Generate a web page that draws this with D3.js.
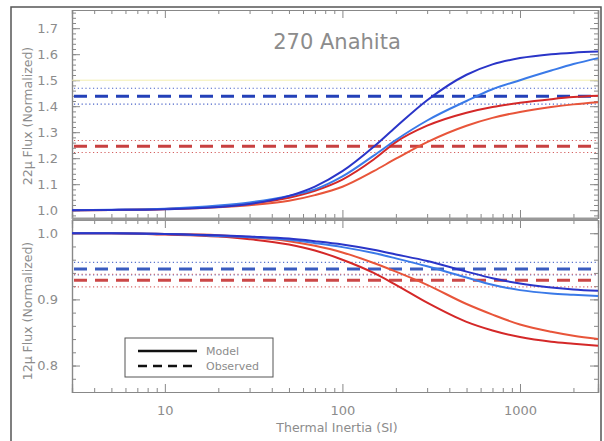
<!DOCTYPE html>
<html>
<head>
<meta charset="utf-8">
<script src="https://cdn.jsdelivr.net/npm/d3@7"></script>
<style>
  body { margin: 0; background: #fff; }
  text { font-family: "DejaVu Sans", sans-serif; fill: #8c8c8c; }
</style>
</head>
<body>
<div id="chart"></div>
<script>
// thermal inertia sample points (SI)
const inertia = [3, 5, 10, 20, 30, 50, 70, 100, 150, 200, 300, 500, 700, 1000, 1500, 2000, 2750];

// 22 micron model curves
const flux22BlueA = [1.000, 1.001, 1.004, 1.012, 1.024, 1.055, 1.091, 1.150, 1.244, 1.320, 1.423, 1.521, 1.561, 1.585, 1.600, 1.606, 1.610];
const flux22BlueB = [1.000, 1.002, 1.006, 1.018, 1.030, 1.055, 1.080, 1.130, 1.210, 1.270, 1.345, 1.420, 1.465, 1.500, 1.537, 1.562, 1.585];
const flux22RedA  = [1.000, 1.001, 1.005, 1.014, 1.025, 1.048, 1.075, 1.118, 1.195, 1.262, 1.325, 1.375, 1.397, 1.413, 1.427, 1.435, 1.440];
const flux22RedB  = [1.000, 1.001, 1.004, 1.011, 1.019, 1.036, 1.058, 1.090, 1.150, 1.198, 1.262, 1.325, 1.355, 1.378, 1.397, 1.407, 1.415];

// 12 micron model curves
const flux12BlueA = [1.000, 1.000, 0.999, 0.997, 0.995, 0.992, 0.988, 0.983, 0.975, 0.968, 0.958, 0.942, 0.932, 0.924, 0.918, 0.915, 0.913];
const flux12BlueB = [1.000, 1.000, 0.999, 0.996, 0.994, 0.990, 0.985, 0.979, 0.970, 0.962, 0.950, 0.933, 0.922, 0.914, 0.909, 0.907, 0.905];
const flux12RedA  = [1.000, 1.000, 0.998, 0.995, 0.991, 0.983, 0.974, 0.960, 0.940, 0.922, 0.895, 0.866, 0.853, 0.843, 0.836, 0.833, 0.830];
const flux12RedB  = [1.000, 1.000, 0.999, 0.997, 0.994, 0.988, 0.981, 0.971, 0.955, 0.942, 0.922, 0.893, 0.877, 0.862, 0.851, 0.845, 0.840];

// observed values: [value, low, high]
const obs22Blue = [1.438, 1.408, 1.469];
const obs22Red  = [1.246, 1.222, 1.268];
const obs12Blue = [0.946, 0.937, 0.956];
const obs12Red  = [0.929, 0.919, 0.938];

const xTicks = [10, 100, 1000];
const yTicks22 = [1.0, 1.1, 1.2, 1.3, 1.4, 1.5, 1.6, 1.7];
const yTicks12 = [0.8, 0.9, 1.0];

const W = 604, H = 441;
const left = 72, right = 598;

const svg = d3.select("#chart")
    .append("svg")
    .attr("width", W)
    .attr("height", H);

// outer frame
svg.append("rect")
    .attr("x", 11).attr("y", 7)
    .attr("width", 590).attr("height", 445)
    .attr("fill", "none")
    .attr("stroke", "#555")
    .attr("stroke-width", 1.5);

const x = d3.scaleLog()
    .domain([3, 2750])
    .range([left, right]);

const yTop = d3.scaleLinear().domain([0.97, 1.77]).range([218, 10]);
const yBot = d3.scaleLinear().domain([0.76, 1.02]).range([392, 220]);

const minorX = [];
[1, 10, 100, 1000].forEach(p => {
    for (let k = 1; k < 10; k++) {
        const v = p * k;
        if (v >= 3 && v <= 2750 && xTicks.indexOf(v) < 0) minorX.push(v);
    }
});

function drawPanel(y, majorY, minorStep, showX) {
    const g = svg.append("g");
    const [y0, y1] = y.range();

    const minorY = d3.range(Math.ceil(y.domain()[0] / minorStep), Math.floor(y.domain()[1] / minorStep) + 1)
        .map(i => +(i * minorStep).toFixed(3));

    // left axis
    g.append("g")
        .attr("transform", `translate(${left},0)`)
        .call(d3.axisLeft(y).tickValues(majorY).tickFormat(d3.format(".1f")).tickSize(-8).tickPadding(14));
    g.append("g")
        .attr("transform", `translate(${left},0)`)
        .call(d3.axisLeft(y).tickValues(minorY).tickFormat("").tickSize(-4));
    // right axis
    g.append("g")
        .attr("transform", `translate(${right},0)`)
        .call(d3.axisRight(y).tickValues(majorY).tickFormat("").tickSize(-8));
    g.append("g")
        .attr("transform", `translate(${right},0)`)
        .call(d3.axisRight(y).tickValues(minorY).tickFormat("").tickSize(-4));
    // top and bottom
    g.append("g")
        .attr("transform", `translate(0,${y1})`)
        .call(d3.axisTop(x).tickValues(xTicks).tickFormat("").tickSize(-8));
    g.append("g")
        .attr("transform", `translate(0,${y1})`)
        .call(d3.axisTop(x).tickValues(minorX).tickFormat("").tickSize(-4));
    g.append("g")
        .attr("transform", `translate(0,${y0})`)
        .call(d3.axisBottom(x).tickValues(xTicks).tickFormat(showX ? d3.format("d") : "").tickSize(-8).tickPadding(14));
    g.append("g")
        .attr("transform", `translate(0,${y0})`)
        .call(d3.axisBottom(x).tickValues(minorX).tickFormat("").tickSize(-4));

    g.selectAll(".domain").attr("stroke", "#888").attr("stroke-width", 1.2);
    g.selectAll(".tick line").attr("stroke", "#888");
    g.selectAll(".tick text").attr("font-size", 13).attr("fill", "#8c8c8c")
        .attr("font-family", "DejaVu Sans, sans-serif");
    return g;
}

drawPanel(yTop, yTicks22, 0.02, false);
drawPanel(yBot, yTicks12, 0.02, true);

// thick separator between panels
svg.append("line")
    .attr("x1", left).attr("x2", right)
    .attr("y1", 219).attr("y2", 219)
    .attr("stroke", "#999")
    .attr("stroke-width", 3);

// faint line in top panel
svg.append("line")
    .attr("x1", left).attr("x2", right)
    .attr("y1", yTop(1.5)).attr("y2", yTop(1.5))
    .attr("stroke", "#f2eeb0")
    .attr("stroke-width", 1);

function observed(y, obs, colorDash, colorDot) {
    obs.slice(1).forEach(v => {
        svg.append("line")
            .attr("x1", left + 2).attr("x2", right - 2)
            .attr("y1", y(v)).attr("y2", y(v))
            .attr("stroke", colorDot)
            .attr("stroke-width", 1.2)
            .attr("stroke-dasharray", "1.2,2.6");
    });
    svg.append("line")
        .attr("x1", left + 2).attr("x2", right - 2)
        .attr("y1", y(obs[0])).attr("y2", y(obs[0]))
        .attr("stroke", colorDash)
        .attr("stroke-width", 3)
        .attr("stroke-dasharray", "13,8");
}

observed(yTop, obs22Blue, "#2340b8", "#4a63c8");
observed(yTop, obs22Red, "#c84040", "#d46060");
observed(yBot, obs12Blue, "#3a5cc0", "#5a74cc");
observed(yBot, obs12Red, "#cc4848", "#d86a6a");

function curve(y, vals, color) {
    const line = d3.line()
        .x((d, i) => x(inertia[i]))
        .y(d => y(d))
        .curve(d3.curveMonotoneX);
    svg.append("path")
        .datum(vals)
        .attr("d", line)
        .attr("fill", "none")
        .attr("stroke", color)
        .attr("stroke-width", 2);
}

curve(yTop, flux22RedB, "#e8553a");
curve(yTop, flux22RedA, "#d42828");
curve(yTop, flux22BlueB, "#3a7ae8");
curve(yTop, flux22BlueA, "#2a35c8");

curve(yBot, flux12RedB, "#e8553a");
curve(yBot, flux12RedA, "#d42828");
curve(yBot, flux12BlueB, "#3a7ae8");
curve(yBot, flux12BlueA, "#2a35c8");

// title
svg.append("text")
    .attr("x", 337).attr("y", 49)
    .attr("text-anchor", "middle")
    .attr("font-size", 21)
    .text("270 Anahita");

// axis titles
svg.append("text")
    .attr("transform", "rotate(-90)")
    .attr("x", -116).attr("y", 32)
    .attr("text-anchor", "middle")
    .attr("font-size", 12.5)
    .text("22μ Flux (Normalized)");

svg.append("text")
    .attr("transform", "rotate(-90)")
    .attr("x", -311).attr("y", 32)
    .attr("text-anchor", "middle")
    .attr("font-size", 12.5)
    .text("12μ Flux (Normalized)");

svg.append("text")
    .attr("x", 337).attr("y", 432)
    .attr("text-anchor", "middle")
    .attr("font-size", 12.5)
    .text("Thermal Inertia (SI)");

// legend
const legend = svg.append("g");
legend.append("rect")
    .attr("x", 125).attr("y", 338)
    .attr("width", 148).attr("height", 39)
    .attr("fill", "#fff")
    .attr("stroke", "#555");
legend.append("line")
    .attr("x1", 138).attr("x2", 197).attr("y1", 351).attr("y2", 351)
    .attr("stroke", "#111").attr("stroke-width", 2.5);
legend.append("line")
    .attr("x1", 138).attr("x2", 197).attr("y1", 366).attr("y2", 366)
    .attr("stroke", "#111").attr("stroke-width", 2.5)
    .attr("stroke-dasharray", "9,6");
legend.append("text")
    .attr("x", 206).attr("y", 355)
    .attr("font-size", 11)
    .text("Model");
legend.append("text")
    .attr("x", 206).attr("y", 370)
    .attr("font-size", 11)
    .text("Observed");
</script>
</body>
</html>
